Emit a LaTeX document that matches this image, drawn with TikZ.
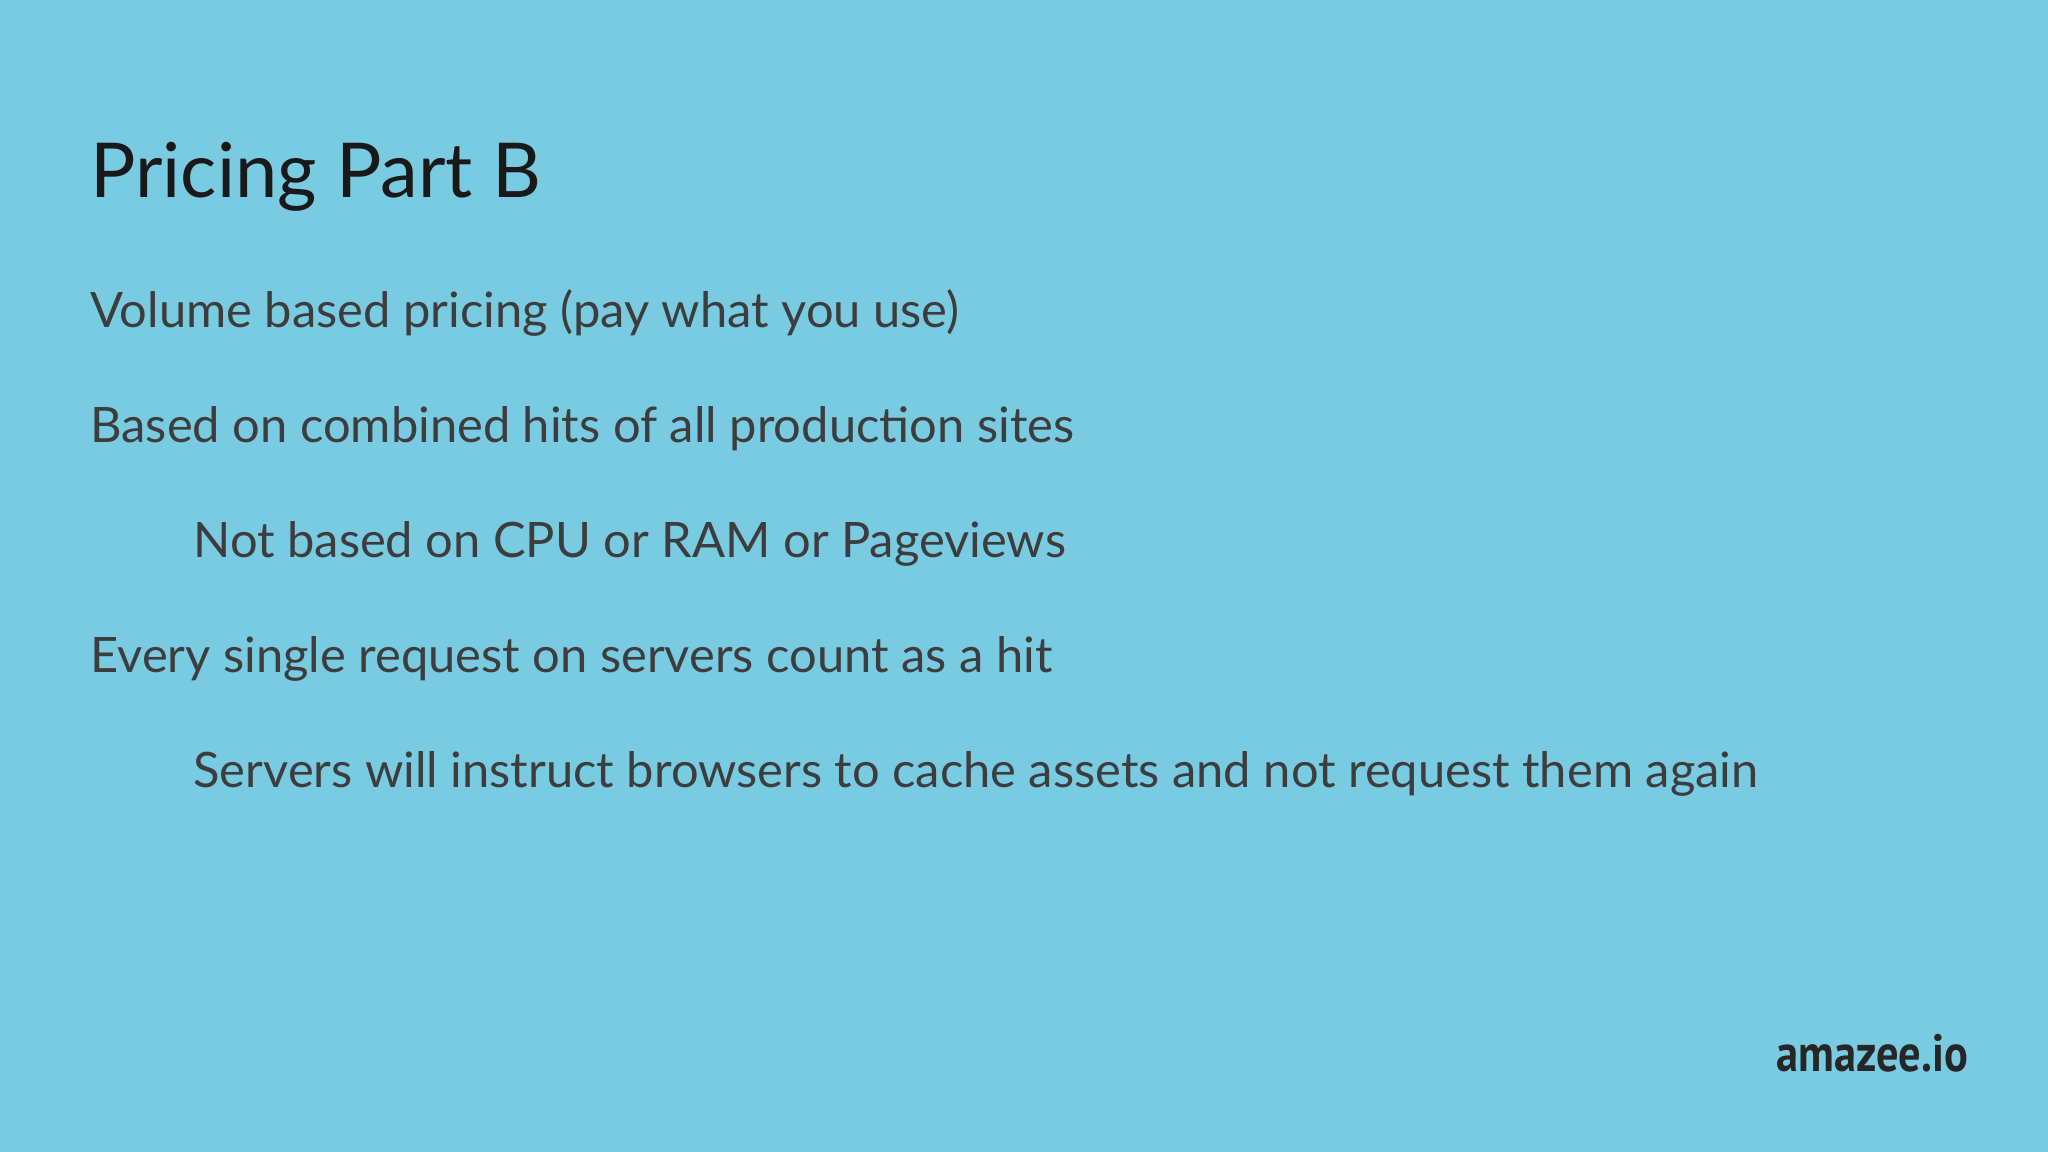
\documentclass[tikz,border=0pt]{standalone}
\usepackage{fontspec}
\setmainfont{Lato}
\newfontfamily\logofont[FakeStretch=0.85]{PT Sans}
\definecolor{bg}{HTML}{79CBE1}
\definecolor{txt}{HTML}{3D3D3D}
\begin{document}
\begin{tikzpicture}[x=1pt,y=-1pt,
  body/.style={anchor=base west,inner sep=0pt,text=txt,font=\fontsize{37.4}{42}\selectfont}]
\fill[bg] (0,0) rectangle (1568,882);
\useasboundingbox (0,0) rectangle (1568,882);
\node[anchor=base west,inner sep=0pt,text=black!90,font=\fontsize{58}{64}\selectfont] (title) at (69,151) {Pricing Part B};
\node[body] (l1) at (69,251) {Volume based pricing (pay what you use)};
\node[body] (l2) at (69,339) {Based on combined hits of all production sites};
\node[body] (l3) at (148,427) {Not based on CPU or RAM or Pageviews};
\node[body] (l4) at (69,515) {Every single request on servers count as a hit};
\node[body] (l5) at (148,603) {Servers will instruct browsers to cache assets and not request them again};
\node[anchor=base east,inner sep=0pt,text=black!85,font=\logofont\bfseries\fontsize{40}{44}\selectfont] (logo) at (1507,820) {amazee.io};
\end{tikzpicture}
\end{document}
